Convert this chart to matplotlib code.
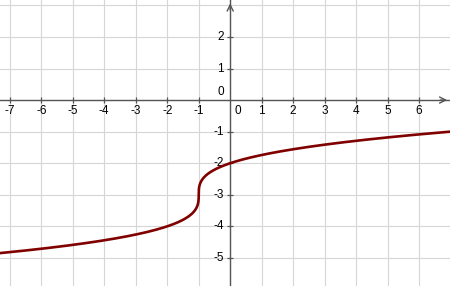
import matplotlib.pyplot as plt
import numpy as np

plt.rcParams["font.family"] = ["Liberation Sans", "DejaVu Sans"]

# curve: y = cbrt(x + shift) + offset
x_shift = 1.0
y_offset = -3.0
x_ticks = [-7, -6, -5, -4, -3, -2, -1, 1, 2, 3, 4, 5, 6]
y_ticks = [-5, -4, -3, -2, -1, 1, 2]

xmin, xmax = -7.31, 6.98
ymin, ymax = -5.89, 3.17

fig = plt.figure(figsize=(4.5, 2.86), dpi=100)
ax = fig.add_axes([0, 0, 1, 1])
ax.set_xlim(xmin, xmax)
ax.set_ylim(ymin, ymax)
for s in ax.spines.values():
    s.set_visible(False)
ax.set_xticks([])
ax.set_yticks([])

grid_c = "#d6d6d6"
for gx in range(-7, 7):
    ax.axvline(gx, color=grid_c, lw=0.8, zorder=0)
for gy in range(-5, 4):
    ax.axhline(gy, color=grid_c, lw=0.8, zorder=0)

axis_c = "#555555"
ax.axhline(0, color=axis_c, lw=1.0, zorder=1)
ax.axvline(0, color=axis_c, lw=1.0, zorder=1)
ax.annotate("", xy=(xmax, 0), xytext=(xmax - 0.4, 0),
            arrowprops=dict(arrowstyle="->", color=axis_c, lw=1.0,
                            mutation_scale=11))
ax.annotate("", xy=(0, ymax - 0.02), xytext=(0, ymax - 0.4),
            arrowprops=dict(arrowstyle="->", color=axis_c, lw=1.0,
                            mutation_scale=11))

# small tick marks on the axes
ax.plot(x_ticks, [0] * len(x_ticks), ls="none", marker="|", ms=4,
        mew=0.9, color=axis_c, zorder=1)
ax.plot([0] * len(y_ticks), y_ticks, ls="none", marker="_", ms=4,
        mew=0.9, color=axis_c, zorder=1)

fs = 8.5
for t in x_ticks:
    ax.text(t, -0.17, str(t), ha="center", va="top", fontsize=fs, color="black")
for t in y_ticks:
    ax.text(-0.2, t, str(t), ha="right", va="center", fontsize=fs, color="black")
ax.text(0.15, -0.17, "0", ha="left", va="top", fontsize=fs)
ax.text(-0.2, 0.08, "0", ha="right", va="bottom", fontsize=fs)

x = np.linspace(xmin, xmax, 4001)
y = np.cbrt(x + x_shift) + y_offset
ax.plot(x, y, color="#800000", lw=1.9, zorder=3, solid_capstyle="round")

fig.savefig("out.png", dpi=100)
